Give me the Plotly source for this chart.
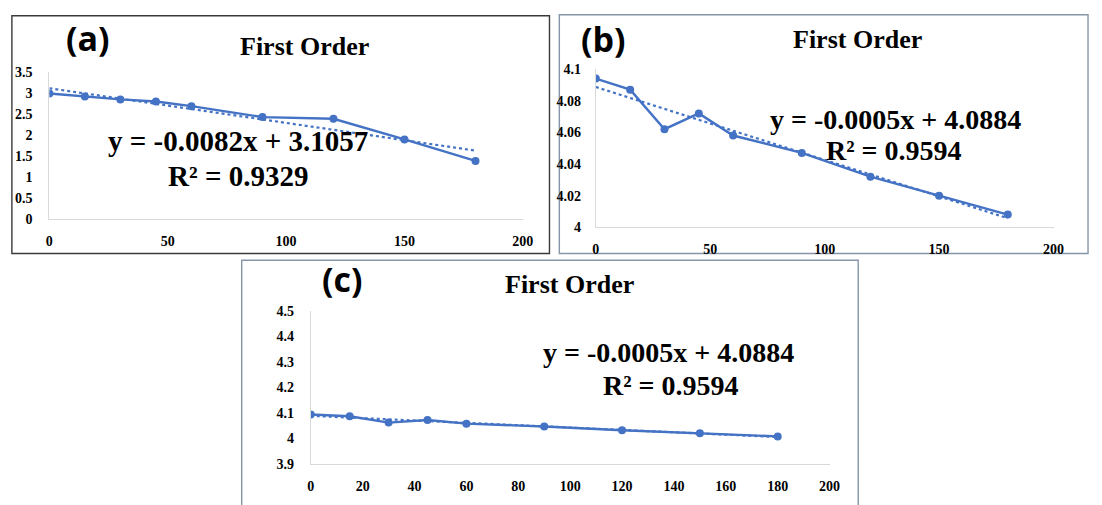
import numpy as np
import plotly.graph_objects as go

W, H = 1102, 505

# Sampling times (min)
time_a = [0, 15, 30, 45, 60, 90, 120, 150, 180]
time_b = [0, 15, 30, 45, 60, 90, 120, 150, 180]
time_c = [0, 15, 30, 45, 60, 90, 120, 150, 180]

# First-order plot values
ln_a = [2.99, 2.92, 2.85, 2.80, 2.69, 2.43, 2.39, 1.90, 1.39]
ln_b = [4.094, 4.087, 4.062, 4.072, 4.058, 4.047, 4.032, 4.020, 4.008]
ln_c = [4.094, 4.087, 4.062, 4.072, 4.058, 4.047, 4.032, 4.020, 4.008]

# Axis ranges and tick steps
yrange_a, ydtick_a = [0, 3.5], 0.5
yrange_b, ydtick_b = [4.0, 4.1], 0.02
yrange_c, ydtick_c = [3.9, 4.5], 0.1
xdtick_a, xdtick_b, xdtick_c = 50, 50, 20

panel_labels = ["(a)", "(b)", "(c)"]
titles = ["First Order", "First Order", "First Order"]
equations = ["y = -0.0082x + 3.1057", "y = -0.0005x + 4.0884", "y = -0.0005x + 4.0884"]
r_squared = ["R\u00b2 = 0.9329", "R\u00b2 = 0.9594", "R\u00b2 = 0.9594"]

BLUE = "#4472C4"
SERIF = "Liberation Serif"


def px(x):
    return x / W


def py(y):
    return 1 - y / H


fig = go.Figure()

panels = [
    dict(x=time_a, y=ln_a, yr=yrange_a, ydt=ydtick_a, xdt=xdtick_a,
         dom_x=(46, 526), dom_y=(219, 67), ax="", lab=(85, 32), tit=(305, 41),
         eq=(237, 138), r2=(237, 174), eqsize=29, box=(8, 9, 553, 254), boxcol="#3a3a3a",
         ystand=13, xstand=9),
    dict(x=time_b, y=ln_b, yr=yrange_b, ydt=ydtick_b, xdt=xdtick_b,
         dom_x=(600, 1064), dom_y=(227, 64), ax="2", lab=(608, 33), tit=(865, 34),
         eq=(904, 116), r2=(902, 148), eqsize=28, box=(563, 8, 1099, 254), boxcol="#8696a8",
         ystand=11, xstand=9),
    dict(x=time_c, y=ln_c, yr=yrange_c, ydt=ydtick_c, xdt=xdtick_c,
         dom_x=(311, 837), dom_y=(471, 313), ax="3", lab=(343, 280), tit=(573, 286),
         eq=(674, 356), r2=(676, 390), eqsize=28, box=(241, 261, 866, 520), boxcol="#8696a8",
         ystand=13, xstand=9),
]

for i, p in enumerate(panels):
    xa = "x" + p["ax"]
    ya = "y" + p["ax"]

    # Least-squares linear trendline over the sampled range
    slope, intercept = np.polyfit(p["x"], p["y"], 1)
    tx = np.array([min(p["x"]), max(p["x"])])
    fig.add_trace(go.Scatter(
        x=tx, y=slope * tx + intercept, mode="lines",
        line=dict(color=BLUE, width=2.2, dash="dot"),
        xaxis=xa, yaxis=ya, showlegend=False, hoverinfo="skip"))

    fig.add_trace(go.Scatter(
        x=p["x"], y=p["y"], mode="lines+markers",
        line=dict(color=BLUE, width=2.4),
        marker=dict(color=BLUE, size=8),
        xaxis=xa, yaxis=ya, showlegend=False))

    axis_common = dict(showgrid=False, zeroline=False, showline=True,
                       linecolor="#d9d9d9", linewidth=1, ticks="",
                       tickfont=dict(family=SERIF, size=14, color="black", weight="bold"))
    fig.update_layout(**{
        ("xaxis" + p["ax"]): dict(domain=[px(p["dom_x"][0]), px(p["dom_x"][1])],
                                  range=[0, 200], dtick=p["xdt"], tick0=0,
                                  anchor=ya, ticklabelstandoff=p["xstand"], **axis_common),
        ("yaxis" + p["ax"]): dict(domain=[py(p["dom_y"][0]), py(p["dom_y"][1])],
                                  range=p["yr"], dtick=p["ydt"], tick0=p["yr"][0],
                                  anchor=xa, ticklabelstandoff=p["ystand"], **axis_common),
    })

    bx0, by0, bx1, by1 = p["box"]
    fig.add_shape(type="rect", xref="paper", yref="paper",
                  x0=px(bx0), x1=px(bx1), y0=py(by1), y1=py(by0),
                  line=dict(color=p["boxcol"], width=1.4), layer="below")

    text_items = [
        (panel_labels[i], p["lab"], dict(family="Open Sans", size=34)),
        (titles[i], p["tit"], dict(family=SERIF, size=26)),
        (equations[i], p["eq"], dict(family=SERIF, size=p["eqsize"])),
        (r_squared[i], p["r2"], dict(family=SERIF, size=p["eqsize"])),
    ]
    for txt, (cx, cy), f in text_items:
        fig.add_annotation(text=txt, x=px(cx), y=py(cy), xref="paper", yref="paper",
                           xanchor="center", yanchor="middle", showarrow=False,
                           font=dict(color="black", weight="bold", **f))

fig.update_layout(width=W, height=H, margin=dict(l=0, r=0, t=0, b=0),
                  paper_bgcolor="white", plot_bgcolor="white")

fig.write_html("out.html")
